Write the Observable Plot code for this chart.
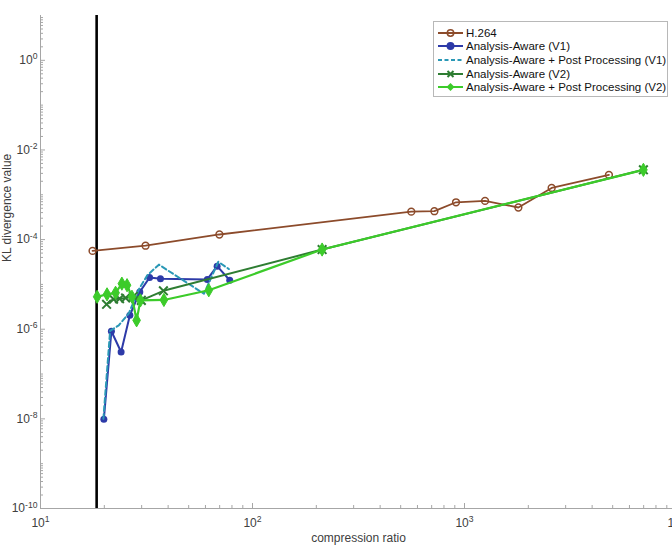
<!DOCTYPE html>
<html>
<head>
<meta charset="utf-8">
<script src="https://cdn.jsdelivr.net/npm/d3@7"></script>
<script src="https://cdn.jsdelivr.net/npm/@observablehq/plot@0.6"></script>
<style>
  html, body { margin: 0; padding: 0; background: #fff; overflow: hidden; }
  #wrap { position: relative; width: 672px; height: 558px; overflow: hidden; }
  #legend { position: absolute; left: 433px; top: 21px; width: 235px; height: 76px;
    border: 1px solid #b8b8b8; background: #fff; box-sizing: border-box;
    font: 11.5px "Liberation Sans", Arial, sans-serif; color: #111; }
  .row { position: absolute; left: 3px; height: 13px; display: flex; align-items: center; white-space: nowrap; }
  .row svg { margin-right: 2px; }
</style>
</head>
<body>
<div id="wrap"><div id="chart"></div><div id="legend"></div></div>
<script>
// ---- data ----
const xDomain = [10, 10000];
const yDomain = [1e-10, 10];
const cutoffX = [18.4];

const seriesNames = ["H.264", "Analysis-Aware (V1)", "Analysis-Aware + Post Processing (V1)", "Analysis-Aware (V2)", "Analysis-Aware + Post Processing (V2)"];
const seriesColors = ["#8c4b2b", "#2d3aa8", "#2a98b6", "#2e7d32", "#3ccb2a"];

const h264X = [17.6, 31.3, 69.8, 561, 721, 912, 1250, 1795, 2577, 4800];
const h264Y = [5.6e-5, 7.3e-5, 1.3e-4, 4.2e-4, 4.3e-4, 6.8e-4, 7.3e-4, 5.2e-4, 1.42e-3, 2.77e-3];

const v1X = [19.9, 21.6, 24.0, 26.4, 29.4, 32.7, 36.8, 61.2, 68.1, 78.1];
const v1Y = [9.8e-9, 9.0e-7, 3.1e-7, 2.05e-6, 6.8e-6, 1.43e-5, 1.33e-5, 1.29e-5, 2.55e-5, 1.24e-5];

const v1ppX = [19.8, 21.3, 23.4, 26.1, 29.3, 31.9, 36.2, 59.0, 69.0, 77.4];
const v1ppY = [1.0e-8, 9.2e-7, 1.22e-6, 2.27e-6, 8.2e-6, 1.6e-5, 2.76e-5, 6.2e-6, 3.2e-5, 2.2e-5];

const v2X = [20.5, 22.1, 23.6, 25.2, 27.4, 29.9, 38.0, 213, 6980];
const v2Y = [3.6e-6, 4.7e-6, 4.8e-6, 5.0e-6, 5.4e-6, 4.4e-6, 7.2e-6, 6.0e-5, 3.6e-3];

const v2ppX = [18.5, 20.6, 22.6, 24.2, 25.6, 27.0, 28.4, 29.6, 38.2, 62.2, 213, 6980];
const v2ppY = [5.3e-6, 6.0e-6, 6.5e-6, 1.04e-5, 9.6e-6, 5.3e-6, 1.58e-6, 4.4e-6, 4.5e-6, 7.4e-6, 6.0e-5, 3.6e-3];

const xTickValues = [10, 100, 1000, 10000];
const xTickLabels = ["10^1", "10^2", "10^3", "10^4"];
const yTickValues = [1e-10, 1e-8, 1e-6, 1e-4, 1e-2, 1];
const yTickLabels = ["10^-10", "10^-8", "10^-6", "10^-4", "10^-2", "10^0"];
const xLabel = "compression ratio";
const yLabel = "KL divergence value";

// ---- helpers ----
const rows = (xs, ys) => xs.map((x, i) => ({x, y: ys[i]}));
const xMinor = [];
for (const d of [10, 100, 1000]) for (let k = 2; k <= 9; k++) xMinor.push(k * d);
const yMinor = [];
for (let e = -10; e <= 0; e++) {
  for (let k = 2; k <= 9; k++) yMinor.push(k * Math.pow(10, e));
  if (e % 2 !== 0) yMinor.push(Math.pow(10, e));
}
const axisGray = "#a6a6a6";
const textGray = "#404040";
const lookup = (vals, labels) => d => {
  let best = 0;
  vals.forEach((v, i) => { if (Math.abs(Math.log10(v) - Math.log10(d)) < Math.abs(Math.log10(vals[best]) - Math.log10(d))) best = i; });
  return labels[best];
};

const d0 = rows(h264X, h264Y), d1 = rows(v1X, v1Y), d2 = rows(v1ppX, v1ppY), d3s = rows(v2X, v2Y), d4 = rows(v2ppX, v2ppY);

const chart = Plot.plot({
  width: 672, height: 558,
  marginLeft: 40, marginRight: -4, marginTop: 15, marginBottom: 50,
  style: {fontFamily: "'Liberation Sans', Arial, sans-serif", fontSize: "11px", background: "white", overflow: "visible"},
  x: {type: "log", domain: xDomain, axis: null},
  y: {type: "log", domain: yDomain, axis: null},
  marks: [
    // axis base lines
    Plot.ruleX([xDomain[0]], {stroke: axisGray}),
    Plot.ruleY([yDomain[0]], {stroke: axisGray}),
    // inward ticks
    Plot.axisX(xMinor, {anchor: "bottom", tickSize: 3, dy: -3, stroke: axisGray, label: null, tickFormat: () => ""}),
    Plot.axisX(xTickValues, {anchor: "bottom", tickSize: 5, dy: -5, stroke: axisGray, label: null, tickFormat: () => ""}),
    Plot.axisY(yMinor, {anchor: "left", tickSize: 3, dx: 3, stroke: axisGray, label: null, tickFormat: () => ""}),
    Plot.axisY(yTickValues, {anchor: "left", tickSize: 5, dx: 5, stroke: axisGray, label: null, tickFormat: () => ""}),
    // tick labels
    Plot.axisX(xTickValues, {anchor: "bottom", tickSize: 0, tickPadding: 10, fill: textGray, fontSize: 12, label: null, tickFormat: lookup(xTickValues, xTickLabels)}),
    Plot.axisY(yTickValues, {anchor: "left", tickSize: 0, tickPadding: 3, fill: textGray, fontSize: 12, label: null, tickFormat: lookup(yTickValues, yTickLabels)}),
    // axis titles
    Plot.text([xLabel], {text: d => d, frameAnchor: "bottom", dy: 33, fill: textGray, fontSize: 12}),
    Plot.text([yLabel], {text: d => d, frameAnchor: "left", dx: -33, rotate: -90, fill: textGray, fontSize: 12}),
    // cutoff line
    Plot.ruleX(cutoffX, {stroke: "black", strokeWidth: 2.6}),
    // H.264
    Plot.line(d0, {x: "x", y: "y", stroke: seriesColors[0], strokeWidth: 1.8}),
    Plot.dot(d0, {x: "x", y: "y", r: 3.4, stroke: seriesColors[0], strokeWidth: 1.5, fill: "none"}),
    // V1
    Plot.line(d1, {x: "x", y: "y", stroke: seriesColors[1], strokeWidth: 2}),
    Plot.dot(d1, {x: "x", y: "y", r: 3.5, fill: seriesColors[1]}),
    // V1 + PP
    Plot.line(d2, {x: "x", y: "y", stroke: seriesColors[2], strokeWidth: 2, strokeDasharray: "5,3"}),
    // V2
    Plot.line(d3s, {x: "x", y: "y", stroke: seriesColors[3], strokeWidth: 2}),
    Plot.dot(d3s, {x: "x", y: "y", symbol: "times", r: 4, stroke: seriesColors[3], strokeWidth: 2}),
    // V2 + PP
    Plot.line(d4, {x: "x", y: "y", stroke: seriesColors[4], strokeWidth: 2.2}),
    Plot.dot(d4, {x: "x", y: "y", symbol: "diamond", r: 4, fill: seriesColors[4], stroke: seriesColors[4], strokeWidth: 1})
  ]
});

// superscripts in tick labels
const NS = "http://www.w3.org/2000/svg";
chart.querySelectorAll('g[aria-label$="tick label"] text').forEach(t => {
  const m = (t.textContent || "").match(/^10\^(.+)$/);
  if (!m) return;
  t.textContent = "10";
  const sp = document.createElementNS(NS, "tspan");
  sp.setAttribute("dy", "-0.55em");
  sp.setAttribute("font-size", "0.72em");
  sp.textContent = m[1];
  t.appendChild(sp);
});
document.getElementById("chart").appendChild(chart);

// legend
const legend = document.getElementById("legend");
const markerKind = ["ocircle", "circle", "none", "times", "diamond"];
seriesNames.forEach((name, i) => {
  const row = document.createElement("div");
  row.className = "row";
  row.style.top = (4 + i * 13.7) + "px";
  const svg = document.createElementNS(NS, "svg");
  svg.setAttribute("width", "27"); svg.setAttribute("height", "12");
  const ln = document.createElementNS(NS, "line");
  ln.setAttribute("x1", "1"); ln.setAttribute("x2", "26"); ln.setAttribute("y1", "6"); ln.setAttribute("y2", "6");
  ln.setAttribute("stroke", seriesColors[i]); ln.setAttribute("stroke-width", "2");
  if (markerKind[i] === "none") ln.setAttribute("stroke-dasharray", "4,2.5");
  svg.appendChild(ln);
  const c = seriesColors[i];
  if (markerKind[i] === "ocircle" || markerKind[i] === "circle") {
    const ci = document.createElementNS(NS, "circle");
    ci.setAttribute("cx", "13.5"); ci.setAttribute("cy", "6"); ci.setAttribute("r", "3.2");
    ci.setAttribute("fill", markerKind[i] === "circle" ? c : "none");
    ci.setAttribute("stroke", c); ci.setAttribute("stroke-width", "1.5");
    svg.appendChild(ci);
  } else if (markerKind[i] === "times") {
    const p = document.createElementNS(NS, "path");
    p.setAttribute("d", "M10.5,3L16.5,9M16.5,3L10.5,9");
    p.setAttribute("stroke", c); p.setAttribute("stroke-width", "2");
    svg.appendChild(p);
  } else if (markerKind[i] === "diamond") {
    const p = document.createElementNS(NS, "path");
    p.setAttribute("d", "M13.5,2L17.5,6L13.5,10L9.5,6Z");
    p.setAttribute("fill", c);
    svg.appendChild(p);
  }
  row.appendChild(svg);
  const span = document.createElement("span");
  span.textContent = name;
  row.appendChild(span);
  legend.appendChild(row);
});
</script>
</body>
</html>
